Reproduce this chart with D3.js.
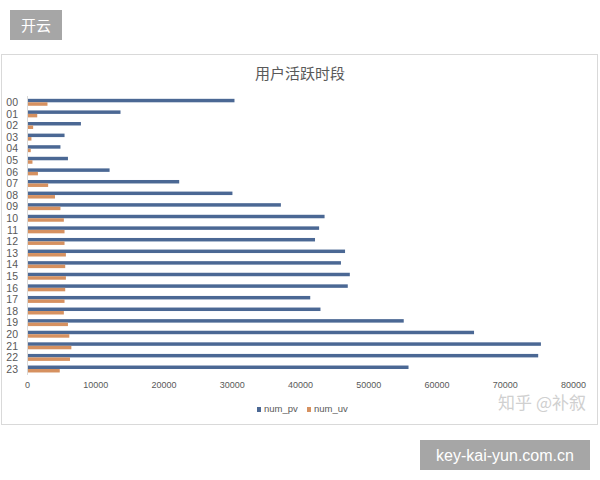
<!DOCTYPE html>
<html>
<head>
<meta charset="utf-8">
<script src="https://cdn.jsdelivr.net/npm/d3@7"></script>
<style>
  body { margin: 0; background: #fff; }
  svg { display: block; font-family: "Liberation Sans", "Noto Sans CJK SC", sans-serif; }
</style>
</head>
<body>
<div class="chart"></div>
<script>
// hours shown top to bottom
const hours = ["00","01","02","03","04","05","06","07","08","09","10","11",
               "12","13","14","15","16","17","18","19","20","21","22","23"];
const numPv = [30400,13700,7900,5500,4900,6000,12100,22300,30100,37200,43600,42800,
               42200,46600,46000,47300,47000,41500,43000,55200,65500,75300,74900,55900];
const numUv = [3000,1500,900,650,550,800,1600,3100,4100,4900,5400,5500,
               5500,5700,5600,5700,5600,5500,5400,6000,6200,6500,6300,4800];
const seriesNames = ["num_pv","num_uv"];
const xTicks = [0,10000,20000,30000,40000,50000,60000,70000,80000];

const colors = {num_pv:"#4b6894", num_uv:"#d69160"};

var svg = d3.select(".chart")
  .append("svg")
  .attr("width",600)
  .attr("height",480);

// little grey tag top left
svg.append("rect").attr("x",10).attr("y",10).attr("width",52).attr("height",30).attr("fill","#a6a6a6");
svg.append("text").text("开云")
  .attr("x",36).attr("y",31)
  .attr("text-anchor","middle")
  .style("font-family","Noto Sans CJK SC")
  .style("font-size","15px")
  .attr("fill","#fff");

// chart frame
svg.append("rect")
  .attr("x",1.5).attr("y",54.5).attr("width",596).attr("height",370)
  .attr("fill","#fff").attr("stroke","#d9d9d9");

svg.append("text").text("用户活跃时段")
  .attr("x",300).attr("y",79)
  .attr("text-anchor","middle")
  .style("font-family","Noto Sans CJK SC")
  .style("font-size","15px")
  .attr("fill","#595959");

var x = d3.scaleLinear().domain([0,80000]).range([27,573]);

var y = d3.scaleBand()
  .domain(hours)
  .range([96.5,374.8])
  .paddingInner(0.4)
  .paddingOuter(0.2);

var ySub = d3.scaleBand().domain(seriesNames).range([0,y.bandwidth()]);

var rows = hours.map((h,i)=>({hour:h, num_pv:numPv[i], num_uv:numUv[i]}));

var g = svg.append("g");
g.selectAll("g.row")
  .data(rows)
  .enter().append("g")
  .attr("class","row")
  .attr("transform",d=>"translate(0,"+y(d.hour)+")")
  .selectAll("rect")
  .data(d=>seriesNames.map(k=>({key:k, value:d[k]})))
  .enter().append("rect")
  .attr("x",x(0))
  .attr("y",d=>ySub(d.key))
  .attr("width",d=>x(d.value)-x(0))
  .attr("height",ySub.bandwidth())
  .attr("fill",d=>colors[d.key]);

// vertical axis line + hour labels
svg.append("line")
  .attr("x1",27.5).attr("x2",27.5)
  .attr("y1",96).attr("y2",375)
  .attr("stroke","#d9d9d9");

svg.append("g")
  .selectAll("text")
  .data(hours)
  .enter().append("text")
  .text(d=>d)
  .attr("x",18)
  .attr("y",d=>y(d)+y.bandwidth()/2+3.8)
  .attr("text-anchor","end")
  .style("font-size","10.5px")
  .attr("fill","#595959");

// x axis labels, no line
var xAxis = d3.axisBottom(x).tickValues(xTicks).tickSize(0).tickPadding(0).tickFormat(d3.format("d"));
svg.append("g")
  .attr("transform","translate(0,382)")
  .call(xAxis)
  .call(s=>s.select(".domain").remove())
  .selectAll("text")
  .style("font-size","9px")
  .style("font-family","Liberation Sans")
  .attr("fill","#595959");

// legend
var legend = svg.append("g").attr("transform","translate(257,407)");
var items = legend.selectAll("g")
  .data(seriesNames)
  .enter().append("g")
  .attr("transform",(d,i)=>"translate("+(i*50)+",0)");
items.append("rect").attr("width",4).attr("height",5).attr("fill",d=>colors[d]);
items.append("text").text(d=>d)
  .attr("x",7).attr("y",5)
  .style("font-size","9.5px")
  .attr("fill","#595959");

// zhihu watermark
svg.append("text").text("知乎 @补叙")
  .attr("x",586).attr("y",409)
  .attr("text-anchor","end")
  .style("font-family","Noto Sans CJK SC")
  .style("font-size","17px")
  .attr("fill","#d0d0d0");

// bottom grey tag
svg.append("rect").attr("x",420).attr("y",440).attr("width",170).attr("height",30).attr("fill","#a6a6a6");
svg.append("text").text("key-kai-yun.com.cn")
  .attr("x",505).attr("y",461)
  .attr("text-anchor","middle")
  .style("font-size","16px")
  .attr("fill","#fff");
</script>
</body>
</html>
